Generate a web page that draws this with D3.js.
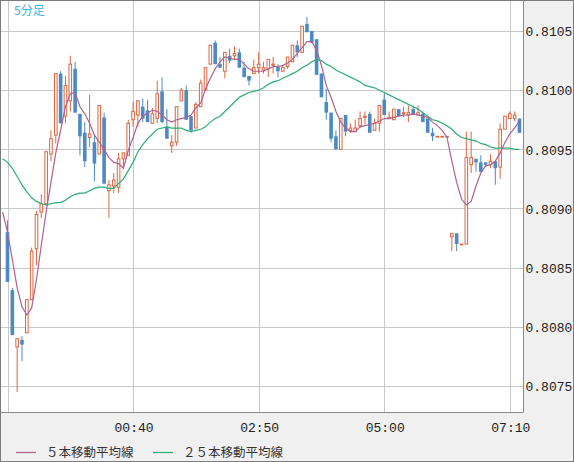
<!DOCTYPE html>
<html>
<head>
<meta charset="utf-8">
<script src="https://cdn.jsdelivr.net/npm/d3@7"></script>
<style>
    html, body { margin: 0; padding: 0; background: #f0f0f0; overflow: hidden; }
    svg { display: block; }
    .tick-label { font-family: "Liberation Mono", "DejaVu Sans Mono", monospace; font-size: 13px; fill: #222; }
    .legend-label { font-family: "Noto Sans CJK JP", sans-serif; font-size: 12.5px; fill: #333; }
</style>
</head>
<body>
<svg width="574" height="462"></svg>
<script>
// 5-minute bars, first bar at 22:30
const startTime = '22:30';
const stepMinutes = 5;

const opens = [
    0.80880, 0.80831, 0.80783, 0.80789, 0.80795, 0.80823, 0.80866, 0.80897, 0.80904, 0.80946,
    0.80962, 0.81014, 0.80978, 0.80991, 0.81018, 0.80980, 0.80964, 0.80960, 0.80956, 0.80946,
    0.80977, 0.80915, 0.80919, 0.80918, 0.80942, 0.80945, 0.80975, 0.80979, 0.80986, 0.80983,
    0.80972, 0.80976, 0.80999, 0.80969, 0.80953, 0.80956, 0.80991, 0.81000, 0.80978, 0.80968,
    0.80986, 0.81000, 0.81022, 0.81040, 0.81022, 0.81016, 0.81029, 0.81029, 0.81032, 0.81019,
    0.81012, 0.81014, 0.81019, 0.81017, 0.81018, 0.81021, 0.81020, 0.81016, 0.81020, 0.81024,
    0.81038, 0.81032, 0.81056, 0.81050, 0.81043, 0.81014, 0.80990, 0.80981, 0.80961, 0.80950,
    0.80979, 0.80966, 0.80965, 0.80970, 0.80977, 0.80980, 0.80966, 0.80972, 0.80992, 0.80976,
    0.80975, 0.80984, 0.80980, 0.80979, 0.80984, 0.80979, 0.80980, 0.80976, 0.80964, 0.80961,
    0.80961, 0.80961, 0.80876, 0.80879, 0.80870, 0.80870, 0.80937, 0.80942, 0.80939, 0.80939,
    0.80937, 0.80940, 0.80935, 0.80967, 0.80976, 0.80976, 0.80976
];
const highs = [
    0.80890, 0.80833, 0.80790, 0.80792, 0.80823, 0.80867, 0.80898, 0.80912, 0.80948, 0.80966,
    0.81014, 0.81016, 0.81012, 0.81029, 0.81024, 0.80980, 0.80973, 0.80996, 0.80963, 0.80987,
    0.80981, 0.80924, 0.80930, 0.80947, 0.80947, 0.80975, 0.80990, 0.80991, 0.80993, 0.80992,
    0.80985, 0.81008, 0.81011, 0.80984, 0.80962, 0.80986, 0.81002, 0.81004, 0.80978, 0.80990,
    0.81009, 0.81019, 0.81038, 0.81042, 0.81028, 0.81032, 0.81035, 0.81037, 0.81035, 0.81024,
    0.81012, 0.81026, 0.81032, 0.81024, 0.81026, 0.81028, 0.81022, 0.81021, 0.81028, 0.81038,
    0.81042, 0.81054, 0.81062, 0.81050, 0.81043, 0.81014, 0.81001, 0.80981, 0.80966, 0.80976,
    0.80979, 0.80972, 0.80975, 0.80982, 0.80982, 0.80982, 0.80976, 0.80987, 0.80997, 0.80982,
    0.80984, 0.80984, 0.80986, 0.80987, 0.80987, 0.80987, 0.80982, 0.80976, 0.80968, 0.80961,
    0.80961, 0.80961, 0.80879, 0.80879, 0.80870, 0.80965, 0.80965, 0.80942, 0.80945, 0.80939,
    0.80946, 0.80940, 0.80972, 0.80978, 0.80982, 0.80982, 0.80976
];
const lows = [
    0.80838, 0.80793, 0.80745, 0.80771, 0.80795, 0.80823, 0.80852, 0.80892, 0.80904, 0.80940,
    0.80955, 0.80972, 0.80972, 0.80982, 0.80981, 0.80945, 0.80935, 0.80952, 0.80923, 0.80946,
    0.80921, 0.80892, 0.80913, 0.80913, 0.80935, 0.80945, 0.80969, 0.80969, 0.80973, 0.80973,
    0.80972, 0.80972, 0.80972, 0.80959, 0.80947, 0.80953, 0.80991, 0.80975, 0.80964, 0.80968,
    0.80986, 0.81000, 0.81022, 0.81022, 0.81019, 0.81010, 0.81023, 0.81026, 0.81019, 0.81011,
    0.81004, 0.81014, 0.81014, 0.81014, 0.81011, 0.81014, 0.81011, 0.81016, 0.81018, 0.81024,
    0.81028, 0.81032, 0.81049, 0.81040, 0.81013, 0.80994, 0.80975, 0.80956, 0.80950, 0.80950,
    0.80961, 0.80964, 0.80965, 0.80968, 0.80971, 0.80964, 0.80966, 0.80965, 0.80979, 0.80976,
    0.80975, 0.80978, 0.80977, 0.80973, 0.80979, 0.80979, 0.80973, 0.80964, 0.80957, 0.80961,
    0.80961, 0.80961, 0.80864, 0.80864, 0.80870, 0.80870, 0.80930, 0.80931, 0.80931, 0.80935,
    0.80934, 0.80920, 0.80925, 0.80967, 0.80976, 0.80974, 0.80964
];
const closes = [
    0.80838, 0.80793, 0.80790, 0.80785, 0.80823, 0.80864, 0.80895, 0.80904, 0.80948, 0.80959,
    0.81014, 0.80972, 0.81004, 0.81022, 0.80981, 0.80961, 0.80940, 0.80963, 0.80938, 0.80987,
    0.80921, 0.80920, 0.80924, 0.80942, 0.80947, 0.80972, 0.80982, 0.80991, 0.80976, 0.80973,
    0.80980, 0.80997, 0.80973, 0.80959, 0.80956, 0.80986, 0.81000, 0.80975, 0.80966, 0.80988,
    0.81006, 0.81019, 0.81038, 0.81022, 0.81019, 0.81032, 0.81025, 0.81031, 0.81019, 0.81011,
    0.81008, 0.81019, 0.81022, 0.81019, 0.81026, 0.81022, 0.81016, 0.81019, 0.81028, 0.81038,
    0.81032, 0.81054, 0.81049, 0.81040, 0.81013, 0.80994, 0.80981, 0.80959, 0.80950, 0.80976,
    0.80965, 0.80968, 0.80968, 0.80976, 0.80978, 0.80964, 0.80972, 0.80987, 0.80979, 0.80977,
    0.80984, 0.80978, 0.80981, 0.80981, 0.80979, 0.80981, 0.80973, 0.80964, 0.80961, 0.80961,
    0.80961, 0.80961, 0.80879, 0.80870, 0.80870, 0.80943, 0.80943, 0.80939, 0.80931, 0.80937,
    0.80940, 0.80934, 0.80967, 0.80978, 0.80980, 0.80979, 0.80964
];

// moving averages, first value sits one bar before the first candle
const maStartIndex = -1;
const ma5 = [
    0.80897,
    0.80880, 0.80857, 0.80833, 0.80817, 0.80810, 0.80816, 0.80840, 0.80869, 0.80897, 0.80922,
    0.80947, 0.80966, 0.80986, 0.80997, 0.80998, 0.80986, 0.80980, 0.80972, 0.80962, 0.80956,
    0.80950, 0.80943, 0.80939, 0.80938, 0.80934, 0.80949, 0.80960, 0.80972, 0.80978, 0.80981,
    0.80983, 0.80982, 0.80979, 0.80975, 0.80973, 0.80975, 0.80976, 0.80977, 0.80979, 0.80985,
    0.80989, 0.81001, 0.81010, 0.81018, 0.81024, 0.81028, 0.81027, 0.81026, 0.81026, 0.81022,
    0.81018, 0.81016, 0.81016, 0.81016, 0.81018, 0.81020, 0.81020, 0.81021, 0.81023, 0.81026,
    0.81031, 0.81036, 0.81041, 0.81041, 0.81034, 0.81021, 0.81004, 0.80994, 0.80982, 0.80973,
    0.80968, 0.80965, 0.80965, 0.80969, 0.80970, 0.80971, 0.80972, 0.80974, 0.80976, 0.80976,
    0.80977, 0.80978, 0.80979, 0.80979, 0.80980, 0.80979, 0.80978, 0.80977, 0.80973, 0.80970,
    0.80966, 0.80960, 0.80940, 0.80922, 0.80908, 0.80903, 0.80906, 0.80919, 0.80930, 0.80936,
    0.80937, 0.80940, 0.80947, 0.80956, 0.80963, 0.80968, 0.80974
];
const ma25 = [
    0.80942,
    0.80939, 0.80934, 0.80927, 0.80920, 0.80914, 0.80909, 0.80906, 0.80904, 0.80903, 0.80904,
    0.80905, 0.80905, 0.80907, 0.80910, 0.80912, 0.80913, 0.80913, 0.80915, 0.80917, 0.80918,
    0.80918, 0.80917, 0.80917, 0.80921, 0.80925, 0.80932, 0.80939, 0.80948, 0.80954, 0.80959,
    0.80963, 0.80967, 0.80968, 0.80969, 0.80968, 0.80968, 0.80968, 0.80966, 0.80965, 0.80966,
    0.80967, 0.80969, 0.80973, 0.80976, 0.80978, 0.80982, 0.80986, 0.80990, 0.80994, 0.80996,
    0.80998, 0.80999, 0.81000, 0.81002, 0.81005, 0.81007, 0.81008, 0.81010, 0.81012, 0.81014,
    0.81016, 0.81019, 0.81021, 0.81024, 0.81026, 0.81025, 0.81022, 0.81020, 0.81017, 0.81015,
    0.81013, 0.81011, 0.81009, 0.81007, 0.81004, 0.81003, 0.81002, 0.81000, 0.80998, 0.80996,
    0.80994, 0.80992, 0.80990, 0.80988, 0.80986, 0.80984, 0.80981, 0.80978, 0.80975, 0.80974,
    0.80972, 0.80970, 0.80967, 0.80963, 0.80960, 0.80959, 0.80958, 0.80957, 0.80955, 0.80954,
    0.80952, 0.80951, 0.80951, 0.80951, 0.80951, 0.80950, 0.80950
];

const priceTicks = [0.8075, 0.8080, 0.8085, 0.8090, 0.8095, 0.8100, 0.8105];
const gridTimes = ['22:30', '00:40', '02:50', '05:00', '07:10'];
const timeLabels = ['00:40', '02:50', '05:00', '07:10'];
const periodLabel = '5分足';
const legendItems = ['５本移動平均線', '２５本移動平均線'];

(function(d3) {
    'use strict';

    const width = 574, height = 462;
    const plot = { left: 1, top: 1, right: 523.5, bottom: 412.5 };

    const upColor = '#dc6641';
    const downColor = '#4b8ac3';
    const ma5Color = '#b0628f';
    const ma25Color = '#2aae74';
    const gridColor = '#c8c8c8';

    // bar times from start time
    const [h0, m0] = startTime.split(':').map(Number);
    const times = opens.map((d, i) => {
        const t = (h0 * 60 + m0 + i * stepMinutes) % (24 * 60);
        return d3.format('02')(Math.floor(t / 60)) + ':' + d3.format('02')(t % 60);
    });

    const bars = opens.map((o, i) => ({
        i, time: times[i], open: o, high: highs[i], low: lows[i], close: closes[i]
    }));

    const x = d3.scaleLinear()
        .domain([0, times.indexOf('07:10')])
        .range([7.5, 509.8]);

    const y = d3.scaleLinear()
        .domain([0.8075, 0.8105])
        .range([386, 31]);

    const svg = d3.select('svg');

    svg.append('rect')
        .attr('width', width).attr('height', height)
        .attr('fill', '#f0f0f0');

    svg.append('rect')
        .attr('x', plot.left).attr('y', plot.top)
        .attr('width', plot.right - plot.left).attr('height', plot.bottom - plot.top)
        .attr('fill', '#fff');

    svg.append('clipPath').attr('id', 'plot-clip')
        .append('rect')
        .attr('x', plot.left).attr('y', plot.top)
        .attr('width', plot.right - plot.left - 0.5).attr('height', plot.bottom - plot.top - 0.5);

    // grid
    const grid = svg.append('g');
    grid.selectAll('.hgrid').data(priceTicks)
        .enter().append('line')
        .attr('class', 'hgrid')
        .attr('x1', plot.left).attr('x2', plot.right)
        .attr('y1', d => Math.round(y(d)) + 0.5)
        .attr('y2', d => Math.round(y(d)) + 0.5)
        .attr('stroke', gridColor);

    grid.selectAll('.vgrid').data(gridTimes)
        .enter().append('line')
        .attr('class', 'vgrid')
        .attr('x1', d => Math.round(x(times.indexOf(d))) + 0.5)
        .attr('x2', d => Math.round(x(times.indexOf(d))) + 0.5)
        .attr('y1', plot.top).attr('y2', plot.bottom)
        .attr('stroke', gridColor);

    const g = svg.append('g').attr('clip-path', 'url(#plot-clip)');

    // candles
    const bodyW = 3.6;
    const candles = g.selectAll('.candle').data(bars)
        .enter().append('g')
        .attr('class', 'candle');

    candles.append('line')
        .attr('x1', d => x(d.i)).attr('x2', d => x(d.i))
        .attr('y1', d => y(d.high)).attr('y2', d => y(d.low))
        .attr('stroke', d => d.close >= d.open ? upColor : downColor)
        .attr('stroke-width', 1);

    candles.append('rect')
        .attr('x', d => x(d.i) - bodyW / 2 + (d.close >= d.open ? 0.5 : 0))
        .attr('y', d => y(Math.max(d.open, d.close)))
        .attr('width', d => d.close >= d.open ? bodyW - 1 : bodyW)
        .attr('height', d => Math.max(0.8, y(Math.min(d.open, d.close)) - y(Math.max(d.open, d.close))))
        .attr('fill', d => d.close >= d.open ? '#fff' : downColor)
        .attr('stroke', d => d.close >= d.open ? upColor : 'none')
        .attr('stroke-width', 1);

    // moving averages
    const maLine = d3.line()
        .x((d, i) => x(i + maStartIndex))
        .y(d => y(d));

    g.append('path')
        .datum(ma25)
        .attr('d', maLine)
        .attr('fill', 'none')
        .attr('stroke', ma25Color)
        .attr('stroke-width', 1.2);

    g.append('path')
        .datum(ma5)
        .attr('d', maLine)
        .attr('fill', 'none')
        .attr('stroke', ma5Color)
        .attr('stroke-width', 1.2);

    // frame lines
    svg.append('path')
        .attr('d', `M${plot.right},0 V${plot.bottom} H0`)
        .attr('fill', 'none')
        .attr('stroke', '#8a8a8a')
        .attr('stroke-width', 1);

    svg.append('rect')
        .attr('x', 0.5).attr('y', 0.5)
        .attr('width', width - 1).attr('height', height - 1)
        .attr('fill', 'none')
        .attr('stroke', '#7c7c7c');

    // period label
    svg.append('text')
        .attr('x', 14).attr('y', 15)
        .attr('font-family', '"Noto Sans CJK JP", sans-serif')
        .attr('font-size', 12)
        .attr('fill', '#41b2e4')
        .text(periodLabel);

    // price labels
    svg.selectAll('.price-label').data(priceTicks)
        .enter().append('text')
        .attr('class', 'tick-label price-label')
        .attr('x', 525.5)
        .attr('y', d => y(d) + 0.5)
        .attr('dy', '0.36em')
        .text(d => d3.format('.4f')(d));

    // time labels
    svg.selectAll('.time-label').data(timeLabels)
        .enter().append('text')
        .attr('class', 'tick-label time-label')
        .attr('x', d => x(times.indexOf(d)) + 1)
        .attr('y', 427.5)
        .attr('dy', '0.36em')
        .attr('text-anchor', 'middle')
        .text(d => d);

    // legend
    const legend = svg.append('g').attr('transform', 'translate(16,452.5)');
    const legendX = [0, 137];
    const legendColors = [ma5Color, ma25Color];
    const items = legend.selectAll('.legend-item').data(legendItems)
        .enter().append('g')
        .attr('class', 'legend-item')
        .attr('transform', (d, i) => `translate(${legendX[i]},0)`);

    items.append('line')
        .attr('x1', 0).attr('x2', 20)
        .attr('stroke', (d, i) => legendColors[i])
        .attr('stroke-width', 1.2);

    items.append('text')
        .attr('class', 'legend-label')
        .attr('x', 30)
        .attr('dy', '0.36em')
        .text(d => d);

}(d3));
</script>
</body>
</html>
